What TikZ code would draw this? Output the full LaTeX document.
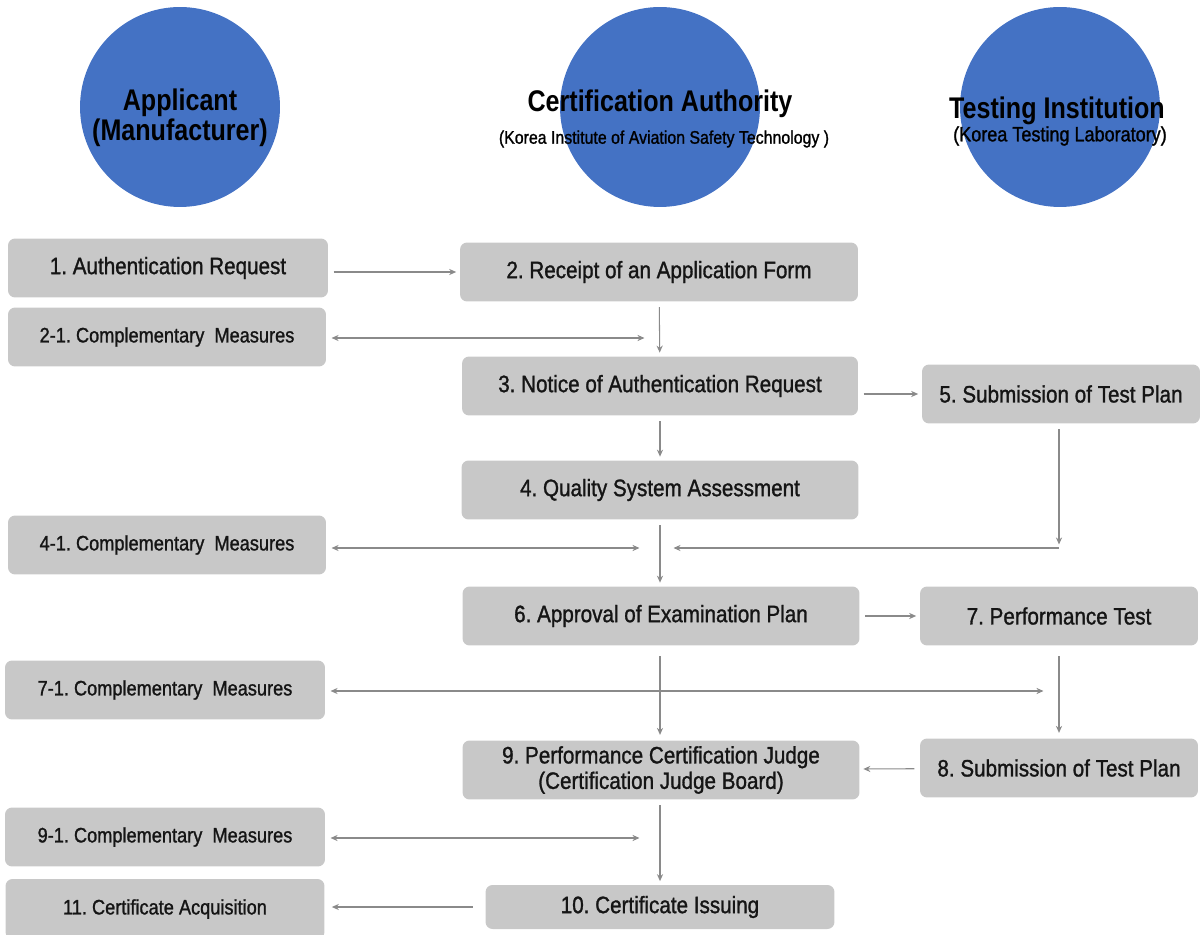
\documentclass[tikz,border=0pt]{standalone}
\usepackage{fontspec}
\setmainfont{Liberation Sans}[FakeStretch=0.87, FakeBold=1.2]
\newfontfamily\titlefont{Liberation Sans}[FakeStretch=0.84]
\usetikzlibrary{arrows.meta}

\definecolor{actorblue}{HTML}{4472C4}
\definecolor{boxgray}{HTML}{C8C8C8}
\definecolor{arrowgray}{HTML}{8A8A8A}
\definecolor{textdark}{HTML}{151515}

\begin{document}
\frenchspacing
\begin{tikzpicture}[
                x = 0.02cm, y = -0.02cm,
                actor/.style = {circle, fill = actorblue, inner sep = 0mm, minimum size = 4cm},
                title/.style = {align = center, font = \titlefont\bfseries\fontsize{17}{17}\selectfont, text = black},
                subtitle/.style = {font = \fontsize{10.4}{11}\selectfont, text = black},
                box/.style = {fill = boxgray, rounded corners = 4pt, inner sep = 0mm, minimum width = 6.4cm, minimum height = 1.18cm, font = \fontsize{13.5}{14.5}\selectfont, text = textdark},
                sidebox/.style = {box, font = \fontsize{11.9}{13}\selectfont},
                arr/.style = {draw, arrowgray, line width = 0.6pt, -{Stealth[length = 4pt, width = 3.5pt]}, shorten < = 3pt, shorten > = 2pt},
                both/.style = {arr, {Stealth[length = 4pt, width = 3.5pt]}-{Stealth[length = 4pt, width = 3.5pt]}},
            ]
            \useasboundingbox (0,0) rectangle (1203,935);

            \node (app) [actor] at (180,107){};
            \node (cert) [actor] at (660,107){};
            \node (test) [actor] at (1060,107){};

            \node (appT) [title] at (180,118) {Applicant\\(Manufacturer)};
            \node (certT) [title] at (660,104) {Certification Authority};
            \node (certS) [subtitle] at (664,139) {(Korea Institute of Aviation Safety Technology )};
            \node (testT) [title] at (1057,111) {Testing Institution};
            \node (testS) [subtitle, font = \fontsize{11.8}{12}\selectfont] at (1060,136) {(Korea Testing Laboratory)};

            \node (req) [box] at (168,268) {1. Authentication Request};
            \node (rcpt) [box, minimum width = 7.96cm] at (659,272) {2. Receipt of an Application Form};
            \node (cm2) [sidebox, minimum width = 6.36cm] at (167,337) {2-1. Complementary\ \ Measures};
            \node (notice) [box, minimum width = 7.92cm] at (660,386) {3. Notice of Authentication Request};
            \node (sub5) [box, minimum width = 5.56cm] at (1061,394) {5. Submission of Test Plan};
            \node (qsa) [box, minimum width = 7.94cm] at (660,490) {4. Quality System Assessment};
            \node (cm4) [sidebox, minimum width = 6.36cm] at (167,545) {4-1. Complementary\ \ Measures};
            \node (exam) [box, minimum width = 7.94cm] at (661,616) {6. Approval of Examination Plan};
            \node (perf) [box, minimum width = 5.56cm] at (1059,616) {7. Performance Test};
            \node (cm7) [sidebox] at (165,690) {7-1. Complementary\ \ Measures};
            \node (judge) [box, minimum width = 7.94cm, align = center] at (661,770) {9. Performance Certification Judge\\(Certification Judge Board)};
            \node (sub8) [box, minimum width = 5.56cm] at (1059,768) {8. Submission of Test Plan};
            \node (cm9) [sidebox] at (165,837) {9-1. Complementary\ \ Measures};
            \node (issue) [box, minimum width = 6.98cm, minimum height = 0.88cm] at (660,907) {10. Certificate Issuing};
            \node (acq) [sidebox, minimum width = 6.38cm, minimum height = 1.2cm] at (165,909) {11. Certificate Acquisition};

            \coordinate (j2) at (648,338);
            \coordinate (j4l) at (643,548);
            \coordinate (j4r) at (670,548);
            \coordinate (j5) at (1059,548);
            \coordinate (j7) at (1047,691);
            \coordinate (j9) at (643,838);

            \path[arr] (req.east |- rcpt.west) -- (rcpt.west);
            \path[arr] (rcpt) -- (notice);
            \path[both] (cm2.east |- j2) -- (j2);

            \path[arr] (notice.east |- sub5.west) -- (sub5.west);
            \path[arr] (notice) -- (qsa);

            \path[arr] (qsa.south) -- (qsa.south |- exam.north);
            \path[both] (cm4.east |- j4l) -- (j4l);
            \path[arr] (sub5.south -| j5) -- (j5);
            \path[arr, shorten < = 0pt] (j5) -- (j4r);

            \path[arr] (exam) -- (perf);
            \path[arr, shorten < = 6pt, shorten > = 3pt] (exam.south -| qsa.south) -- (judge.north -| qsa.south);
            \path[arr, shorten < = 6pt, shorten > = 3pt] (perf) -- (sub8);
            \path[both] (cm7.east |- j7) -- (j7);

            \path[arr] (sub8) -- (judge);
            \path[arr] (judge.south -| issue.north) -- (issue.north);
            \path[both] (cm9.east |- j9) -- (j9);
            \path[arr, shorten < = 7pt, shorten > = 4pt] (issue.west) -- (acq.east |- issue.west);
        \end{tikzpicture}
\end{document}
